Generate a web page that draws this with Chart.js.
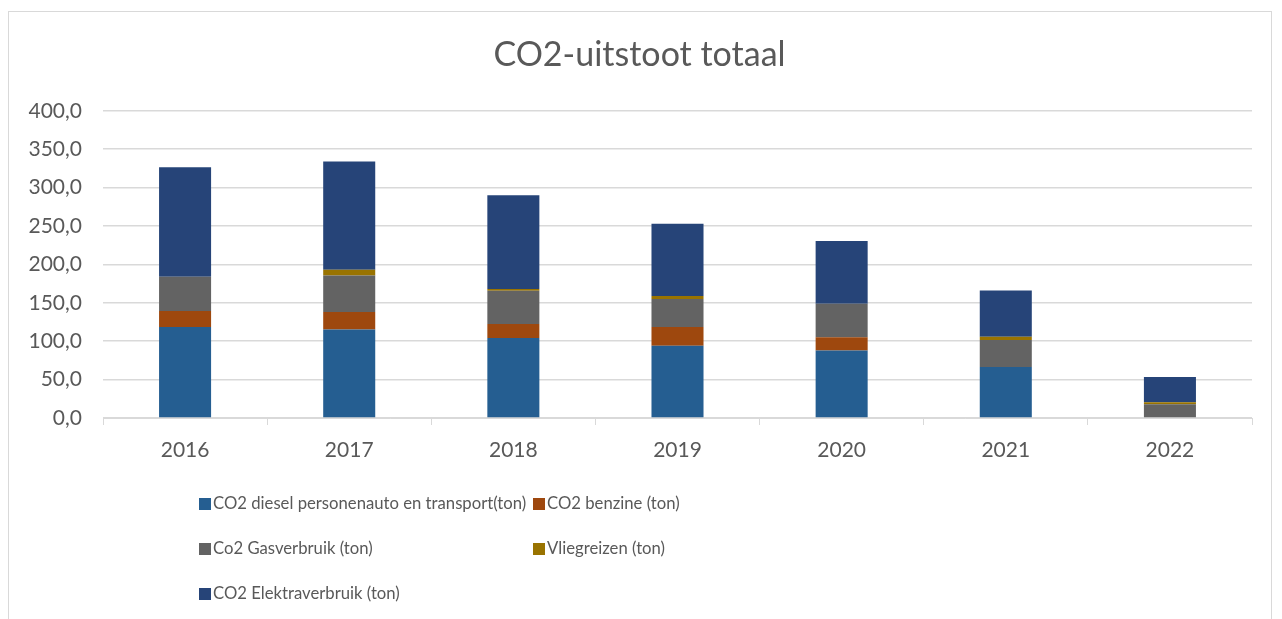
<!DOCTYPE html>
<html>
<head>
<meta charset="utf-8">
<script src="https://cdn.jsdelivr.net/npm/chart.js@4.4.0/dist/chart.umd.min.js"></script>
<style>
  html, body { margin: 0; padding: 0; background: #fff; }
  body { width: 1282px; height: 619px; position: relative; overflow: hidden; }
  #frame { position: absolute; left: 8px; top: 11px; width: 1264px; height: 640px; border: 1px solid #d9d9d9; box-sizing: border-box; }
  #wrap { position: absolute; left: 0; top: 0; width: 1282px; height: 619px; }
</style>
</head>
<body>
<div id="frame"></div>
<div id="wrap"><canvas id="co2-chart" width="1282" height="619"></canvas></div>
<script>
// data
const years = ['2016', '2017', '2018', '2019', '2020', '2021', '2022'];
const diesel = [118.4, 115.3, 104.2, 94.2, 88.0, 66.5, 0];
const benzine = [20.8, 22.6, 18.1, 24.2, 17.0, 0, 0];
const gas = [44.6, 47.6, 43.3, 36.4, 43.7, 35.0, 17.9];
const vliegreizen = [0, 7.4, 2.4, 3.9, 0, 4.3, 2.6];
const elektra = [142.8, 141.1, 122.0, 94.3, 81.8, 60.2, 33.0];

const textColor = '#595959';
const fontFamily = 'Lato, "Liberation Sans", sans-serif';

// legend drawn as a 2-column grid like the original
const gridLegend = {
  id: 'gridLegend',
  afterDraw(chart) {
    const ctx = chart.ctx;
    const slots = [[199, 503], [533, 503], [199, 548], [533, 548], [199, 593]];
    ctx.save();
    ctx.font = '16.7px ' + fontFamily;
    ctx.textBaseline = 'middle';
    chart.data.datasets.forEach((ds, i) => {
      const [x, y] = slots[i];
      ctx.fillStyle = ds.backgroundColor;
      ctx.fillRect(x, y - 5, 12, 12);
      ctx.fillStyle = textColor;
      ctx.fillText(ds.label, x + 14, y + 1);
    });
    ctx.restore();
  }
};

const chartElem = document.getElementById('co2-chart').getContext('2d');
const co2Chart = new Chart(chartElem, {
  type: 'bar',
  data: {
    labels: years,
    datasets: [
      { label: 'CO2 diesel personenauto en transport(ton)', data: diesel, backgroundColor: '#255e91' },
      { label: 'CO2 benzine (ton)', data: benzine, backgroundColor: '#9e480e' },
      { label: 'Co2 Gasverbruik (ton)', data: gas, backgroundColor: '#636363' },
      { label: 'Vliegreizen (ton)', data: vliegreizen, backgroundColor: '#997300' },
      { label: 'CO2 Elektraverbruik (ton)', data: elektra, backgroundColor: '#264478' }
    ]
  },
  options: {
    responsive: false,
    animation: false,
    datasets: { bar: { categoryPercentage: 1, barPercentage: 0.317 } },
    layout: { padding: { top: 0, left: 27, right: 30, bottom: 0 } },
    plugins: {
      legend: { display: false },
      tooltip: { enabled: false },
      title: {
        display: true,
        text: 'CO2-uitstoot totaal',
        color: textColor,
        font: { family: fontFamily, size: 34, weight: 'normal' },
        padding: { top: 35, bottom: 35 }
      }
    },
    scales: {
      x: {
        stacked: true,
        grid: { offset: true, drawOnChartArea: false, color: '#d9d9d9', tickLength: 7 },
        border: { color: '#d9d9d9' },
        ticks: { color: textColor, font: { family: fontFamily, size: 21 }, padding: 13 },
        afterFit: scale => { scale.height = 201; }
      },
      y: {
        stacked: true,
        min: 0,
        max: 400,
        grid: { color: '#d9d9d9', lineWidth: 1.5, drawTicks: false },
        border: { display: false },
        ticks: {
          stepSize: 50,
          color: textColor,
          font: { family: fontFamily, size: 21 },
          padding: 21,
          callback: v => v.toFixed(1).replace('.', ',')
        },
        afterFit: scale => { scale.width = 76; }
      }
    }
  },
  plugins: [gridLegend]
});
</script>
</body>
</html>
